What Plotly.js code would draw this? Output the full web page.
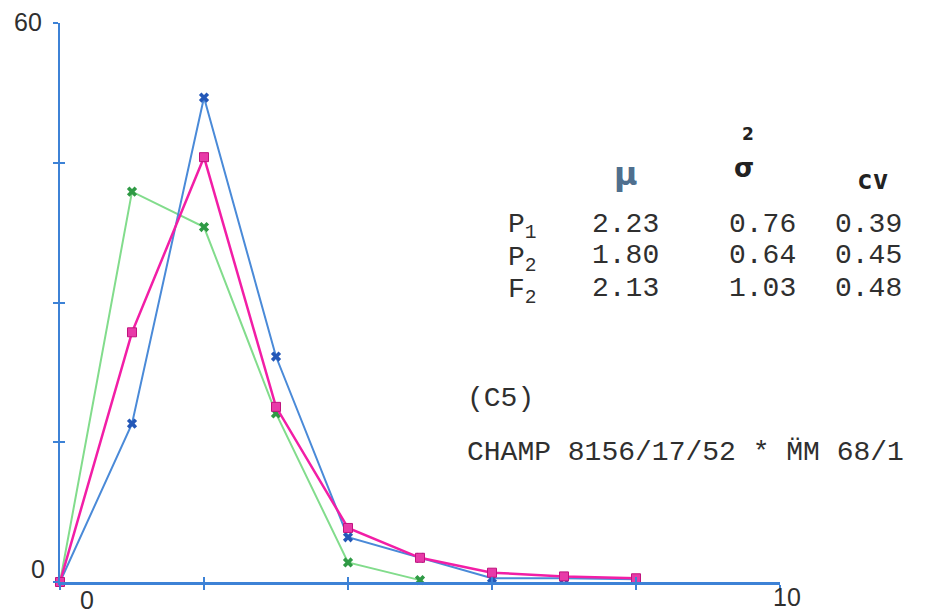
<!DOCTYPE html>
<html>
<head>
<meta charset="utf-8">
<script src="https://cdn.plot.ly/plotly-3.0.1.min.js"></script>
<style>html,body{margin:0;padding:0;background:#fff;}#chart{width:933px;height:616px;}</style>
</head>
<body>
<div id="chart"></div>
<script>
// ---- data ----
const classes = [0, 1, 2, 3, 4, 5, 6, 7, 8];
const classesP2 = [0, 1, 2, 3, 4, 5];
const p1Values = [0, 17.0, 52.0, 24.2, 4.8, 2.6, 0.4, 0.4, 0.3];   // blue
const f2Values = [0, 26.8, 45.6, 18.8, 5.8, 2.6, 1.0, 0.6, 0.4];   // magenta
const p2Values = [0, 41.9, 38.1, 18.1, 2.1, 0.2];                  // green

const tableRows = ['P<sub>1</sub>', 'P<sub>2</sub>', 'F<sub>2</sub>'];
const meanVals = ['2.23', '1.80', '2.13'];
const varVals = ['0.76', '0.64', '1.03'];
const cvVals = ['0.39', '0.45', '0.48'];
const yTickVals = [0, 15, 30, 45, 60];
const xTickVals = [0, 2, 4, 6, 8, 10];

// ---- geometry helpers (pixel -> paper for text placement) ----
const L = 60, R = 153, T = 23, B = 34, W = 933, H = 616;
const xr = [0, 10], yr = [0, 60];
const px2p = px => (px - L) / (W - L - R);
const py2p = py => (H - B - py) / (H - T - B);

const axisBlue = '#3d82d6';
const txt = '#2f2f2f';
const mono = 'Liberation Mono, monospace';
const sans = 'Liberation Sans, Arial, sans-serif';

const traces = [
  {x: classesP2, y: p2Values, mode: 'lines+markers', line: {color: '#82dc8c', width: 2},
   marker: {symbol: 'x', size: 9, color: '#2f9a45'}, cliponaxis: false},
  {x: classes, y: p1Values, mode: 'lines+markers', line: {color: '#4a8ad8', width: 2},
   marker: {symbol: 'x', size: 9, color: '#2458b8'}, cliponaxis: false},
  {x: classes, y: f2Values, mode: 'lines+markers', line: {color: '#f21ea6', width: 2.5},
   marker: {symbol: 'square', size: 9, color: '#e83aa8', line: {color: '#c0147e', width: 1}}, cliponaxis: false}
];

const ann = [];
function add(text, px, py, opts) {
  ann.push(Object.assign({text: text, x: px2p(px), y: py2p(py), xref: 'paper', yref: 'paper',
    showarrow: false, xanchor: 'center', yanchor: 'middle', borderpad: 0,
    font: {family: mono, size: 28, color: txt}}, opts || {}));
}
// axis labels
const axFont = {family: sans, size: 25, color: txt};
add('60', 28, 22, {font: axFont});
add('0', 38, 569, {font: axFont});
add('0', 87, 600, {font: axFont});
add('10', 787, 597, {font: axFont});
// table headers
add('<b>μ</b>', 626, 174, {font: {family: 'DejaVu Sans, sans-serif', size: 32, color: '#4f6f8e'}});
add('<b>2</b>', 748, 134, {font: {family: 'DejaVu Sans, sans-serif', size: 17, color: '#222'}});
add('<b>σ</b>', 744, 168, {font: {family: 'DejaVu Sans, sans-serif', size: 26, color: '#222'}});
add('<b>cv</b>', 872, 180, {font: {family: 'DejaVu Sans Mono, monospace', size: 26, color: '#222'}});
// table rows
const rowY = [224, 256, 288];
tableRows.forEach((r, i) => {
  add(r, 507, rowY[i] + 3, {xanchor: 'left'});
  add(meanVals[i], 625, rowY[i]);
  add(varVals[i], 762, rowY[i]);
  add(cvVals[i], 868, rowY[i]);
});
add('(C5)', 466, 398, {xanchor: 'left'});
add('CHAMP 8156/17/52 * M̈M 68/1', 466, 453, {xanchor: 'left'});

const layout = {
  width: W, height: H,
  margin: {l: L, r: R, t: T, b: B},
  paper_bgcolor: '#ffffff', plot_bgcolor: '#ffffff',
  showlegend: false,
  xaxis: {range: xr, showgrid: false, zeroline: false, showline: true, linecolor: axisBlue, linewidth: 2.5,
          tickvals: xTickVals, ticks: 'outside', ticklen: 5, tickwidth: 2, tickcolor: axisBlue, showticklabels: false},
  yaxis: {range: yr, showgrid: false, zeroline: false, showline: true, linecolor: axisBlue, linewidth: 2.5,
          tickvals: yTickVals, ticks: 'outside', ticklen: 5, tickwidth: 2, tickcolor: axisBlue, showticklabels: false},
  xaxis2: {overlaying: 'x', range: xr, showgrid: false, zeroline: false, showline: false,
           tickvals: xTickVals, ticks: 'inside', ticklen: 5, tickwidth: 2, tickcolor: axisBlue, showticklabels: false},
  yaxis2: {overlaying: 'y', range: yr, showgrid: false, zeroline: false, showline: false,
           tickvals: yTickVals, ticks: 'inside', ticklen: 5, tickwidth: 2, tickcolor: axisBlue, showticklabels: false},
  annotations: ann
};
// invisible trace to activate overlay axes (crossing tick marks)
traces.unshift({x: [0], y: [0], xaxis: 'x2', yaxis: 'y2', mode: 'markers',
                marker: {opacity: 0}, hoverinfo: 'skip'});

Plotly.newPlot('chart', traces, layout, {displayModeBar: false, staticPlot: true});
</script>
</body>
</html>
